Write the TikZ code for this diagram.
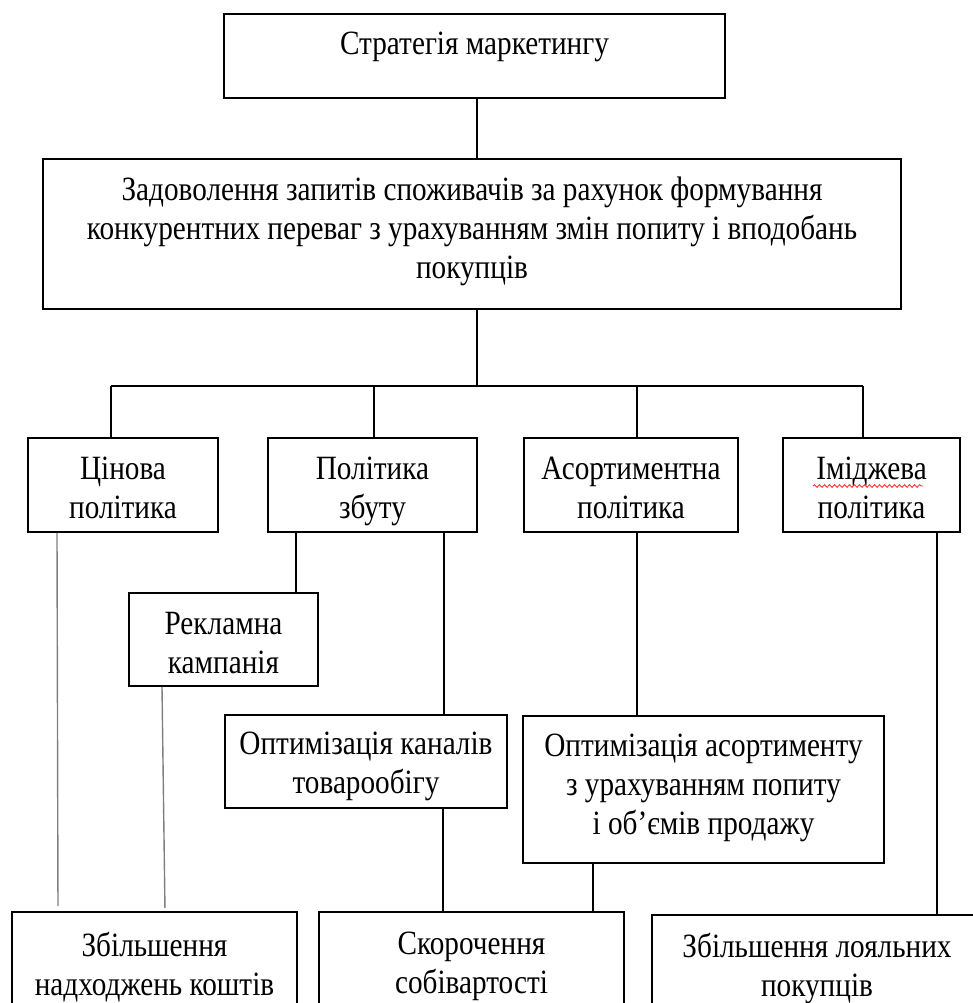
\documentclass[tikz,border=0pt]{standalone}
\usepackage{fontspec}
\setmainfont{Liberation Serif}[FakeStretch=0.86]
\usepackage{tikz}
\usetikzlibrary{positioning,decorations.pathmorphing}

\begin{document}
\begin{tikzpicture}[x=1pt,y=-1pt]
		
		\tikzset{blok/.style 2 args={
				draw, line width=1.8pt,
				minimum width=#1, minimum height=#2,
				inner sep=0pt
			},
			tekst/.style={
				inner sep=0pt, align=center,
				font=\fontsize{34}{39}\selectfont,
				execute at begin node=\strut
			},
			zvyazok/.style={line width=1.4pt},
			siryi/.style={line width=1.4pt, draw=gray}
		}
		
		\useasboundingbox (0,0) rectangle (973,1003);
		\clip (0,0) rectangle (973,1003);
		
		% верхні рівні
		\node[blok={501pt}{84pt}] (strat) at (474.5,56) {};
		\node[blok={858pt}{150pt}] (zadov) at (472,234) {};
		
		% напрями політики
		\node[blok={190pt}{94pt}] (cin) at (123,485) {};
		\node[blok={209pt}{94pt}] (zbut) at (372.5,485) {};
		\node[blok={214pt}{94pt}] (asort) at (631,485) {};
		\node[blok={177pt}{94pt}] (imidzh) at (871.5,485) {};
		
		% заходи
		\node[blok={189pt}{93pt}] (rekl) at (223.5,639.5) {};
		\node[blok={282pt}{93pt}] (kanal) at (366,761.5) {};
		\node[blok={361pt}{147pt}] (optas) at (703.5,789.5) {};
		
		% результати
		\node[blok={285pt}{106pt}] (koshty) at (154.5,965) {};
		\node[blok={305pt}{106pt}] (sobiv) at (471.5,965) {};
		\node[blok={330pt}{106pt}] (loyal) at (817,968) {};
		
		% написи
		\node[tekst, below=14pt of strat.north] (strat-t) {Стратегія маркетингу};
		\node[tekst, below=19pt of zadov.north] (zadov-t) {Задоволення запитів споживачів за рахунок формування\\ конкурентних переваг з урахуванням змін попиту і вподобань\\ покупців};
		\node[tekst, below=20pt of cin.north] (cin-t) {Цінова\\ політика};
		\node[tekst, below=20pt of zbut.north] (zbut-t) {Політика\\ збуту};
		\node[tekst, below=20pt of asort.north] (asort-t) {Асортиментна\\ політика};
		\node[tekst, below=20pt of imidzh.north] (imidzh-t) {Іміджева\\ політика};
		\node[tekst, below=20pt of rekl.north] (rekl-t) {Рекламна\\ кампанія};
		\node[tekst, below=18pt of kanal.north] (kanal-t) {Оптимізація каналів\\ товарообігу};
		\node[tekst, below=19pt of optas.north] (optas-t) {Оптимізація асортименту\\ з урахуванням попиту\\ і об’ємів продажу};
		\node[tekst, below=21pt of koshty.north] (koshty-t) {Збільшення\\ надходжень коштів};
		\node[tekst, below=21pt of sobiv.north] (sobiv-t) {Скорочення\\ собівартості};
		\node[tekst, below=19pt of loyal.north] (loyal-t) {Збільшення лояльних\\ покупців};
		
		% шина
		\coordinate (bus) at (477,386);
		\coordinate (d1) at (111,386);
		\coordinate (d2) at (374,386);
		\coordinate (d3) at (637,386);
		\coordinate (d4) at (863,386);
		
		\draw[zvyazok] ([xshift=2.5pt]strat.south) -- ([xshift=2.5pt]strat.south |- zadov.north);
		\draw[zvyazok] (bus |- zadov.south) -- (bus);
		\draw[zvyazok] (d1) -- (d4);
		\draw[zvyazok] (d1) -- (d1 |- cin.north);
		\draw[zvyazok] (d2) -- (d2 |- zbut.north);
		\draw[zvyazok] (d3) -- (d3 |- asort.north);
		\draw[zvyazok] (d4) -- (d4 |- imidzh.north);
		
		\draw[zvyazok] ([xshift=72.5pt]rekl.north) -- ([xshift=72.5pt]rekl.north |- zbut.south);
		\draw[zvyazok] ([xshift=78pt]kanal.north) -- ([xshift=78pt]kanal.north |- zbut.south);
		\draw[zvyazok] ([xshift=-66.5pt]optas.north) -- ([xshift=-66.5pt]optas.north |- asort.south);
		\draw[zvyazok] ([xshift=120pt]loyal.north) -- ([xshift=120pt]loyal.north |- imidzh.south);
		\draw[zvyazok] ([xshift=77pt]kanal.south) -- ([xshift=77pt]kanal.south |- sobiv.north);
		\draw[zvyazok] ([xshift=121.5pt]sobiv.north) -- ([xshift=121.5pt]sobiv.north |- optas.south);
		
		\draw[siryi, shorten >=5pt] ([xshift=-66pt]cin.south) -- ([xshift=-96.5pt]koshty.north);
		\draw[siryi, shorten >=3pt] ([xshift=-61.5pt]rekl.south) -- ([xshift=10.5pt]koshty.north);
		
		% підкреслення правопису
		\draw[red!80, line width=0.9pt, decorate, decoration={snake, segment length=5pt, amplitude=1.3pt}] (813,486) -- (923,486);
		
\end{tikzpicture}
\end{document}
